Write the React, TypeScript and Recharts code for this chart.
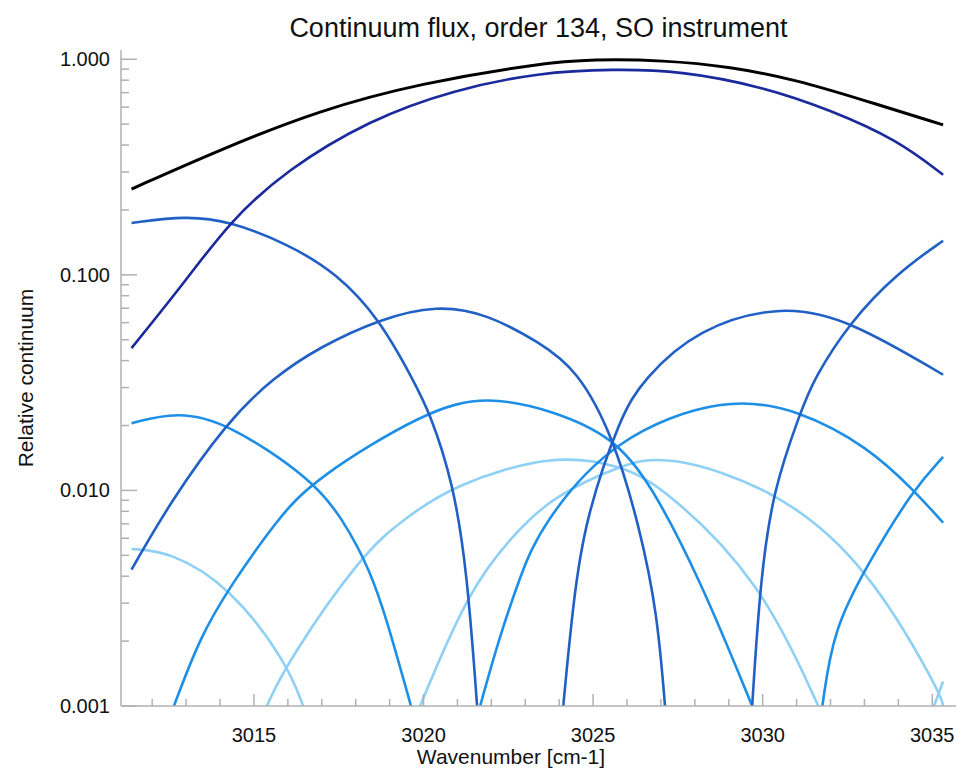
import React from "react";
import { LineChart, Line, XAxis, YAxis } from "recharts";

type P = [number, number];

const totalFlux: P[] = [[3011.39,0.25],[3014.0,0.381],[3016.95,0.582],[3019.9,0.774],[3023.44,0.958],[3025.0,1.0],[3027.07,0.99],[3029.04,0.924],[3031.02,0.801],[3032.96,0.647],[3035.32,0.496]];
const order134: P[] = [[3011.39,0.0457],[3013.01,0.0948],[3014.29,0.177],[3015.96,0.307],[3018.42,0.525],[3020.87,0.721],[3023.44,0.87],[3025.59,0.9],[3027.57,0.885],[3030.01,0.746],[3031.99,0.582],[3033.97,0.423],[3035.32,0.291]];
const order133: P[] = [[3011.39,0.174],[3013.01,0.188],[3014.29,0.177],[3015.96,0.14],[3017.44,0.102],[3018.72,0.0618],[3019.69,0.0326],[3020.19,0.0229],[3020.87,0.0109],[3021.28,0.00428],[3021.58,0.001]];
const order135: P[] = [[3029.69,0.001],[3029.93,0.00385],[3030.31,0.0101],[3031.11,0.0229],[3031.49,0.0326],[3032.58,0.0607],[3033.97,0.102],[3035.32,0.144]];
const order132b: P[] = [[3011.39,0.00429],[3012.52,0.00877],[3014.19,0.0206],[3015.56,0.0333],[3016.95,0.0464],[3018.72,0.0625],[3020.4,0.0725],[3021.87,0.066],[3023.44,0.0484],[3024.53,0.0363],[3025.59,0.0179],[3026.39,0.00658],[3026.89,0.00271],[3027.12,0.001]];
const order136b: P[] = [[3024.12,0.001],[3024.41,0.00301],[3024.76,0.00731],[3025.8,0.022],[3026.47,0.0326],[3028.07,0.0565],[3030.6,0.073],[3032.58,0.0615],[3035.32,0.0344]];
const order132: P[] = [[3011.39,0.0205],[3012.72,0.0232],[3014.19,0.0208],[3016.74,0.0112],[3017.63,0.00731],[3018.42,0.00429],[3018.92,0.00251],[3019.63,0.001]];
const order133c: P[] = [[3012.64,0.001],[3013.41,0.00209],[3014.29,0.00358],[3015.68,0.00731],[3016.74,0.0112],[3020.1,0.0236],[3021.87,0.0275],[3023.82,0.0235],[3025.59,0.0177],[3026.68,0.0109],[3028.16,0.00385],[3029.69,0.001]];
const order135c: P[] = [[3021.67,0.001],[3022.2,0.002],[3022.85,0.004],[3023.44,0.0068],[3025.59,0.0177],[3028.95,0.0275],[3031.11,0.0235],[3033.08,0.016],[3034.44,0.0101],[3035.32,0.00708]];
const order136c: P[] = [[3031.76,0.001],[3032.08,0.00226],[3033.08,0.00452],[3034.44,0.0101],[3035.32,0.0143]];
const order131d: P[] = [[3011.39,0.00535],[3012.52,0.00521],[3014.29,0.00359],[3015.97,0.00159],[3016.45,0.001]];
const order134d: P[] = [[3015.38,0.001],[3015.97,0.00159],[3018.22,0.00515],[3019.4,0.00731],[3020.87,0.0106],[3023.82,0.0148],[3025.8,0.0131],[3027.07,0.0104],[3029.93,0.00385],[3031.64,0.001]];
const order135d: P[] = [[3019.9,0.001],[3021.37,0.00358],[3022.8,0.0066],[3023.82,0.00935],[3025.8,0.0131],[3027.18,0.0148],[3030.43,0.0101],[3033.08,0.00452],[3035.24,0.00115],[3035.32,0.001]];
const order137d: P[] = [[3035.05,0.001],[3035.32,0.0013]];

const NAVY = "#1a2a9c";
const DARK = "#2160c4";
const MED = "#1e8fe6";
const LIGHT = "#8fd0f5";

const series: { name: string; pts: P[]; color: string }[] = [
  { name: "o131d", pts: order131d, color: LIGHT },
  { name: "o134d", pts: order134d, color: LIGHT },
  { name: "o135d", pts: order135d, color: LIGHT },
  { name: "o137d", pts: order137d, color: LIGHT },
  { name: "o132", pts: order132, color: MED },
  { name: "o133c", pts: order133c, color: MED },
  { name: "o135c", pts: order135c, color: MED },
  { name: "o136c", pts: order136c, color: MED },
  { name: "o133", pts: order133, color: DARK },
  { name: "o135", pts: order135, color: DARK },
  { name: "o132b", pts: order132b, color: DARK },
  { name: "o136b", pts: order136b, color: DARK },
  { name: "o134", pts: order134, color: NAVY },
  { name: "total", pts: totalFlux, color: "#000000" },
];

const xTicks: number[] = [];
for (let v = 3012; v <= 3035; v++) xTicks.push(v);
const yMajor = [0.001, 0.01, 0.1, 1];
const yMajorLabels = ["0.001", "0.010", "0.100", "1.000"];
const yTicks: number[] = [];
for (const d of [0.001, 0.01, 0.1]) for (let m = 1; m <= 9; m++) yTicks.push(+(d * m).toPrecision(3));
yTicks.push(1);

const FRAME = "#b0b0b0";
const FONT = "'Liberation Sans', Arial, sans-serif";

const isMajorX = (v: number) => v % 5 === 0;
const isMajorY = (v: number) => yMajor.some((m) => Math.abs(m - v) / m < 1e-6);

const XTickBottom = (p: any) => {
  const v = p.payload.value;
  const len = isMajorX(v) ? 12 : 7;
  return (
    <g>
      <line x1={p.x} x2={p.x} y1={706} y2={706 - len} stroke={FRAME} strokeWidth={1.5} />
      {isMajorX(v) && (
        <text x={p.x} y={742} textAnchor="middle" fontSize={20} fontFamily={FONT} fill="#111">{v}</text>
      )}
    </g>
  );
};
const XTickTop = (p: any) => {
  const v = p.payload.value;
  const len = isMajorX(v) ? 12 : 7;
  return <line x1={p.x} x2={p.x} y1={50} y2={50 + len} stroke={FRAME} strokeWidth={1.5} />;
};
const YTickLeft = (p: any) => {
  const v = p.payload.value;
  const maj = isMajorY(v);
  const idx = yMajor.findIndex((m) => Math.abs(m - v) / m < 1e-6);
  return (
    <g>
      <line x1={121} x2={121 + (maj ? 16 : 8)} y1={p.y} y2={p.y} stroke={FRAME} strokeWidth={1.5} />
      {maj && (
        <text x={110} y={p.y + 7} textAnchor="end" fontSize={20} fontFamily={FONT} fill="#111">{yMajorLabels[idx]}</text>
      )}
    </g>
  );
};
const YTickRight = (p: any) => {
  const v = p.payload.value;
  const maj = isMajorY(v);
  return <line x1={956} x2={956 - (maj ? 16 : 8)} y1={p.y} y2={p.y} stroke={FRAME} strokeWidth={1.5} />;
};

export default function App() {
  return (
    <div style={{ position: "absolute", left: 0, top: 0, width: 962, height: 770, background: "#fff" }}>
      <div style={{ position: "absolute", left: 121, width: 835, top: 13, textAlign: "center", fontFamily: FONT, fontSize: 27, lineHeight: "30px", color: "#111" }}>
        Continuum flux, order 134, SO instrument
      </div>
      <div style={{ position: "absolute", left: 121, width: 780, top: 746, textAlign: "center", fontFamily: FONT, fontSize: 21, lineHeight: "22px", color: "#111" }}>
        Wavenumber [cm-1]
      </div>
      <div style={{ position: "absolute", left: 26, top: 378, transform: "translate(-50%, -50%) rotate(-90deg)", whiteSpace: "nowrap", fontFamily: FONT, fontSize: 21, color: "#111" }}>
        Relative continuum
      </div>
      <LineChart width={962} height={770} margin={{ top: 50, right: 6, bottom: 0, left: 0 }} style={{ position: "absolute", left: 0, top: 0 }}>
        <XAxis xAxisId="b" type="number" dataKey="x" domain={[3011.08, 3035.7]} allowDataOverflow ticks={xTicks} interval={0}
          height={64} tickSize={0} tickMargin={0} tickLine={false} axisLine={{ stroke: FRAME, strokeWidth: 1.5 }} tick={<XTickBottom />} />
        <XAxis xAxisId="t" orientation="top" type="number" dataKey="x" domain={[3011.08, 3035.7]} allowDataOverflow ticks={xTicks} interval={0}
          height={0} tickSize={0} tickMargin={0} tickLine={false} axisLine={{ stroke: FRAME, strokeWidth: 1.5 }} tick={<XTickTop />} />
        <YAxis yAxisId="l" type="number" scale="log" domain={[0.001, 1.104]} allowDataOverflow ticks={yTicks} interval={0}
          width={121} tickSize={0} tickMargin={0} tickLine={false} axisLine={{ stroke: FRAME, strokeWidth: 1.5 }} tick={<YTickLeft />} />
        <YAxis yAxisId="r" orientation="right" type="number" scale="log" domain={[0.001, 1.104]} allowDataOverflow ticks={yTicks} interval={0}
          width={0} tickSize={0} tickMargin={0} tickLine={false} axisLine={{ stroke: FRAME, strokeWidth: 1.5 }} tick={<YTickRight />} />
        {series.map((s) => (
          <Line key={s.name} xAxisId="b" yAxisId="l" data={s.pts.map(([x, y]) => ({ x, y }))} dataKey="y" type="basis"
            stroke={s.color} strokeWidth={s.color === "#000000" ? 3 : 2.6} dot={false} isAnimationActive={false} />
        ))}
      </LineChart>
    </div>
  );
}
